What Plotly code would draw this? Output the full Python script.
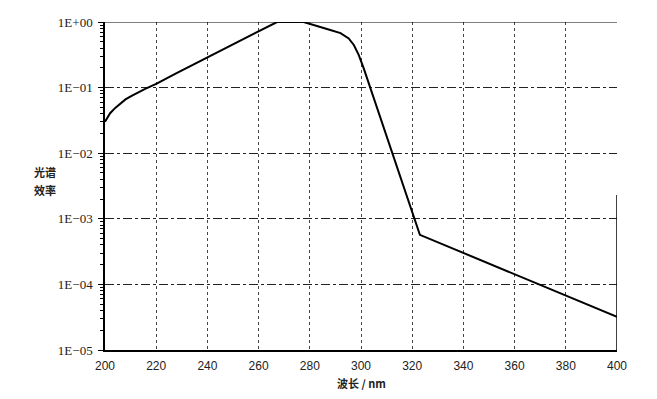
import plotly.graph_objects as go

wavelength = [200, 201, 202, 204, 206, 208, 210.4, 213, 215.7, 220.2, 227.4, 267.2, 277.6,
              288, 292, 295.2, 297.2, 299.1, 301.1, 323, 400]
efficiency = [0.0302, 0.0359, 0.0407, 0.049, 0.0575, 0.0661, 0.0750, 0.0851, 0.0955, 0.1148, 0.162,
              1.0, 1.0, 0.755, 0.676, 0.562, 0.447, 0.316, 0.195, 5.7e-4, 3.2e-5]

x_ticks = [200, 220, 240, 260, 280, 300, 320, 340, 360, 380, 400]
y_ticks = [1e-5, 1e-4, 1e-3, 1e-2, 1e-1, 1]
y_labels = ["1E−05", "1E−04", "1E−03", "1E−02", "1E−01", "1E+00"]

fig = go.Figure()
fig.add_trace(go.Scatter(x=wavelength, y=efficiency, mode="lines",
                         line=dict(color="black", width=2),
                         showlegend=False, hoverinfo="skip"))

# Right partial frame line and top line
fig.add_shape(type="line", xref="x", yref="y", x0=400, x1=400, y0=1e-5, y1=2.3e-3,
              line=dict(color="black", width=1.5))
fig.add_shape(type="line", xref="paper", yref="y", x0=0, x1=1, y0=1, y1=1,
              line=dict(color="black", width=1.2))

fig.update_layout(
    width=657, height=399,
    margin=dict(l=97, r=48, t=14, b=57, autoexpand=False),
    paper_bgcolor="white", plot_bgcolor="white",
    xaxis=dict(range=[200, 400], tickmode="array", tickvals=x_ticks,
               showgrid=True, gridcolor="#444444", griddash="dot", gridwidth=1,
               showline=True, linecolor="black", linewidth=1.5,
               ticks="", zeroline=False, ticklabelstandoff=4,
               tickfont=dict(family="Liberation Sans", size=12, color="#222222")),
    yaxis=dict(type="log", range=[-5, 0], tickmode="array", tickvals=y_ticks, ticktext=y_labels,
               showgrid=True, gridcolor="#222222", griddash="dashdot", gridwidth=1,
               showline=True, linecolor="black", linewidth=1.5,
               ticks="outside", ticklen=5, tickcolor="black", ticklabelstandoff=3,
               minor=dict(dtick="D1", ticks="outside", ticklen=3, tickcolor="black", showgrid=False),
               zeroline=False,
               tickfont=dict(family="Liberation Serif", size=13, color="#222222")),
    annotations=[
        dict(text="<b>光谱</b>", xref="paper", yref="paper", x=-0.117, y=0.543,
             xanchor="center", yanchor="middle", showarrow=False,
             font=dict(family="Noto Sans CJK SC", size=11, color="#222222")),
        dict(text="<b>效率</b>", xref="paper", yref="paper", x=-0.117, y=0.488,
             xanchor="center", yanchor="middle", showarrow=False,
             font=dict(family="Noto Sans CJK SC", size=11, color="#222222")),
        dict(text="<b>波长 / nm</b>", xref="paper", yref="paper", x=0.5, y=-0.10,
             xanchor="center", yanchor="middle", showarrow=False,
             font=dict(family="Noto Sans CJK SC", size=11, color="#222222")),
    ],
)

fig.write_html("out.html")
